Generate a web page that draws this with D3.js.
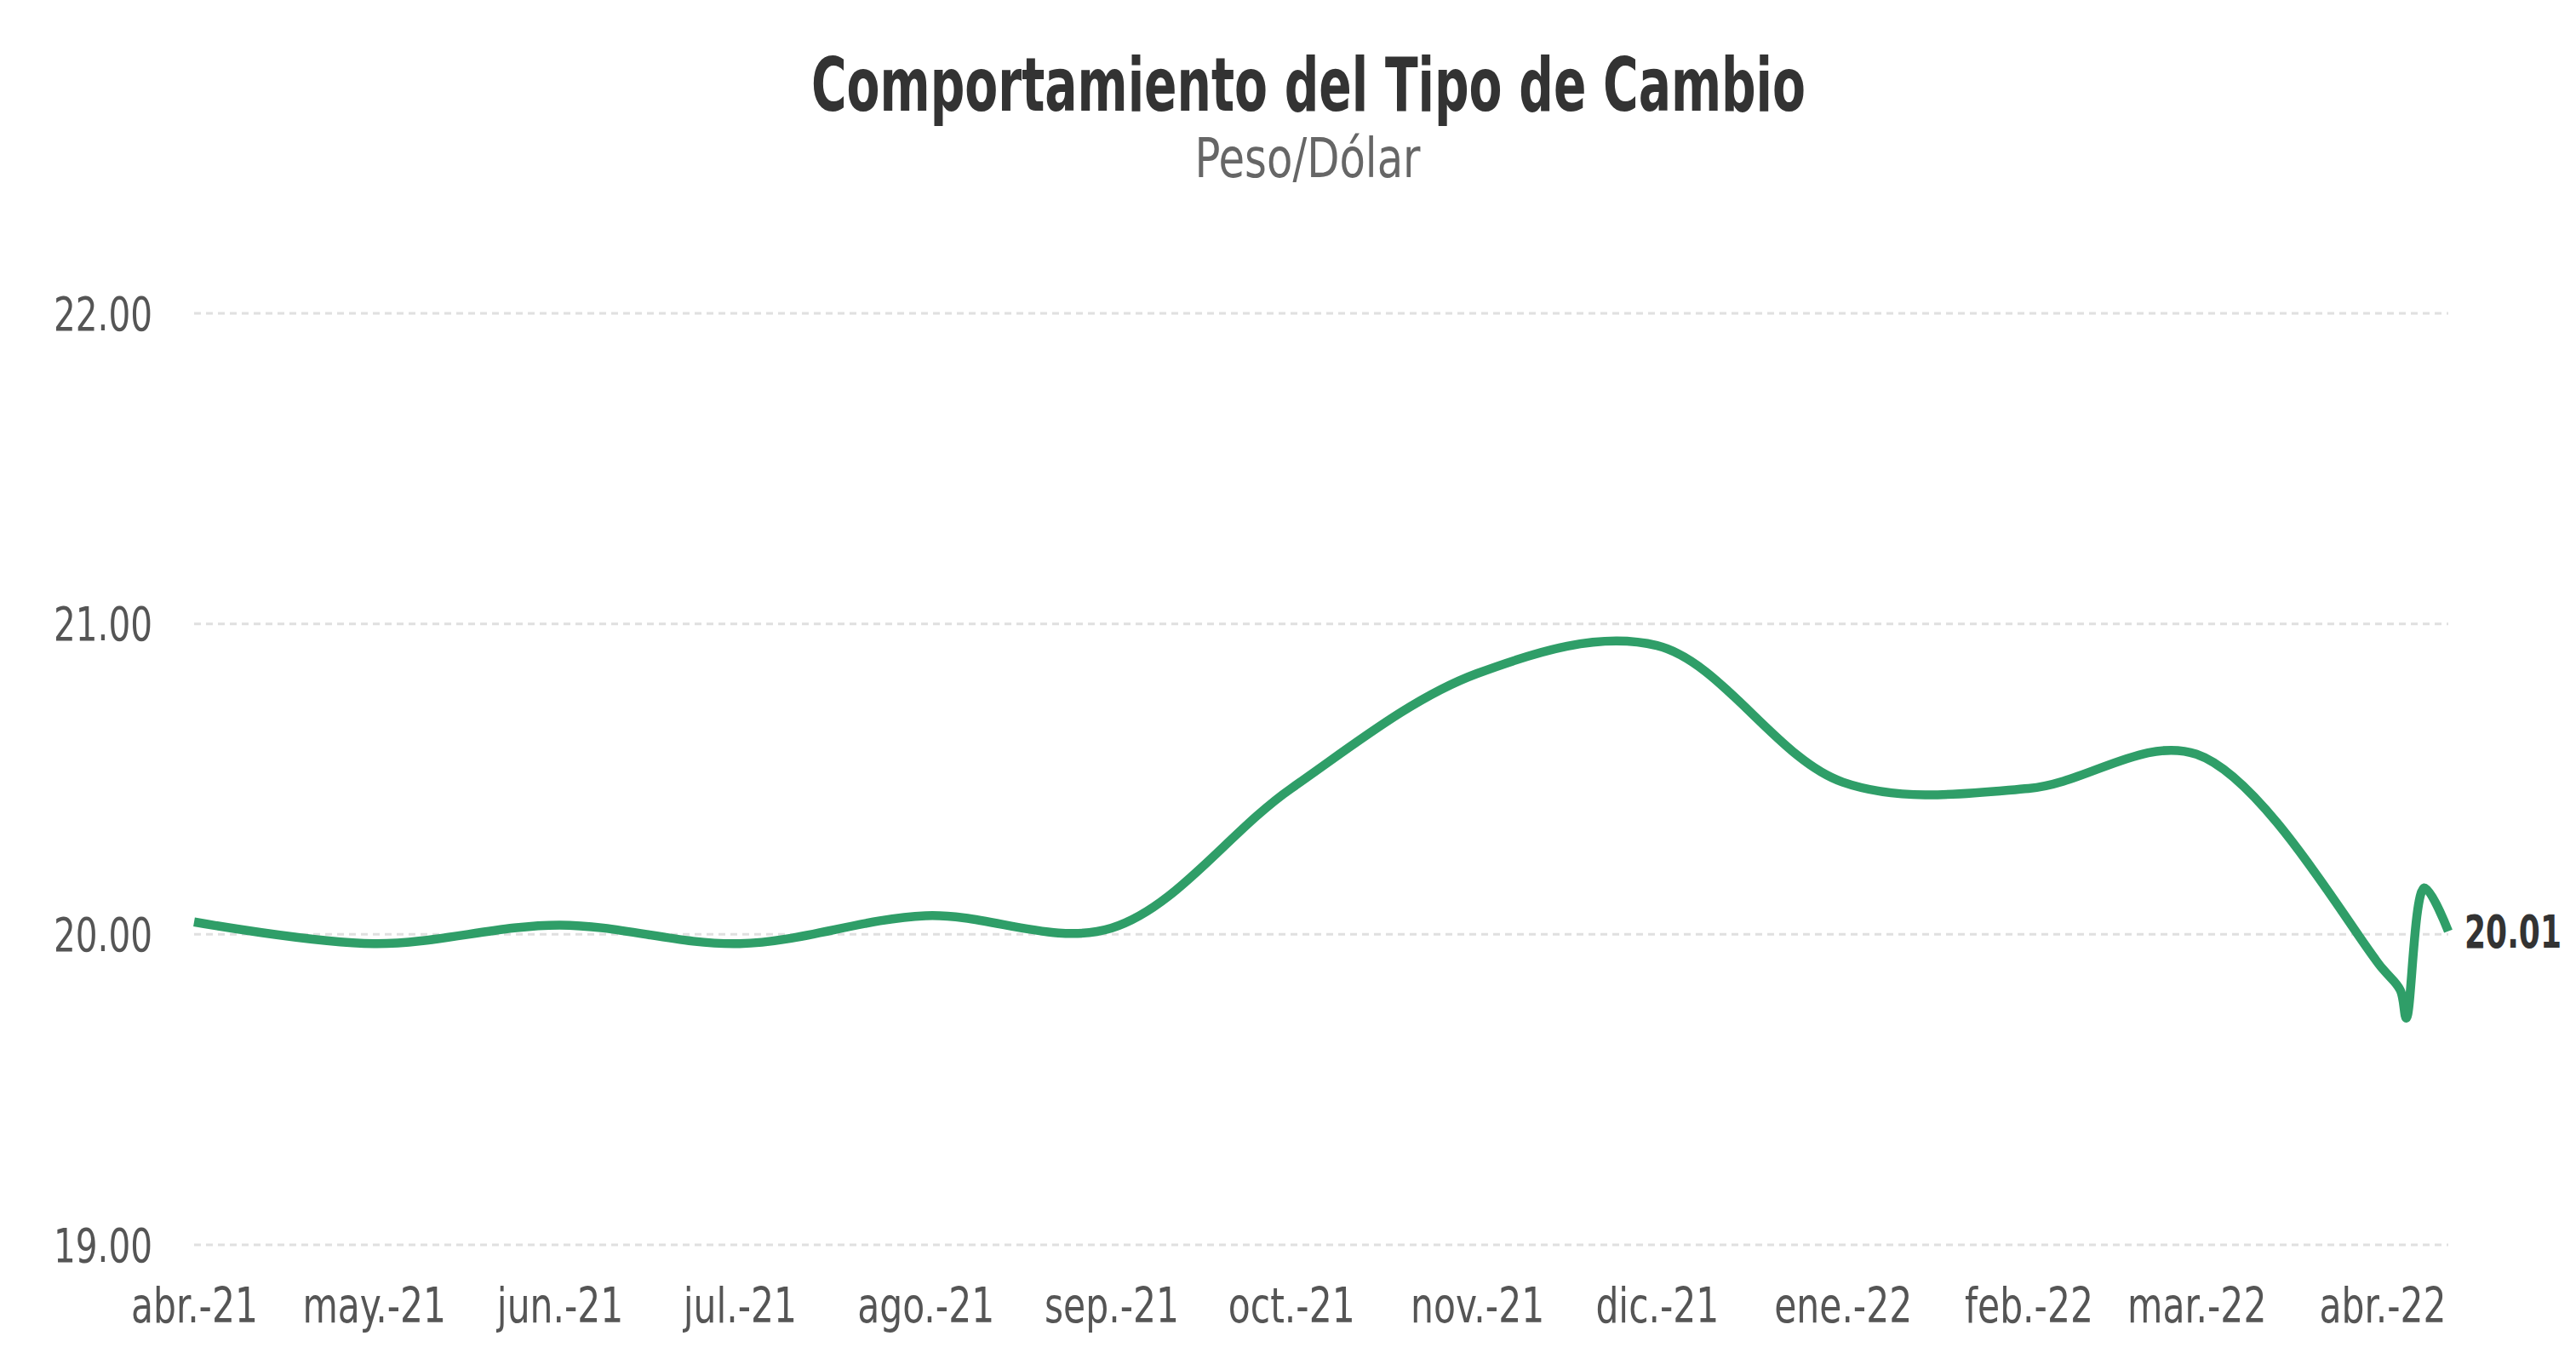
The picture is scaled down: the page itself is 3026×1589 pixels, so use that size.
<!DOCTYPE html>
<html>
<head>
<meta charset="utf-8">
<script src="https://cdn.jsdelivr.net/npm/d3@7"></script>
<style>
  html, body { margin: 0; padding: 0; background: #fff; }
  svg text { font-family: "Liberation Sans Narrow", "Arial Narrow", "DejaVu Sans Condensed", sans-serif; }
</style>
</head>
<body>
<svg id="chart" width="3026" height="1589"></svg>
<script>
// ---- Data ----
const dates = [
  "2021-04-01","2021-05-01","2021-06-01","2021-07-01","2021-08-01","2021-09-01",
  "2021-10-01","2021-11-01","2021-12-01","2022-01-01","2022-02-01","2022-03-01",
  "2022-04-01","2022-04-04","2022-04-05","2022-04-08","2022-04-12"
];
const values = [
  20.04, 19.97, 20.03, 19.97, 20.06, 20.02,
  20.47, 20.84, 20.93, 20.49, 20.47, 20.58,
  19.89, 19.82, 19.73, 20.15, 20.01
];
const tickDates = [
  "2021-04-01","2021-05-01","2021-06-01","2021-07-01","2021-08-01","2021-09-01",
  "2021-10-01","2021-11-01","2021-12-01","2022-01-01","2022-02-01","2022-03-01","2022-04-01"
];
const tickLabels = [
  "abr.-21","may.-21","jun.-21","jul.-21","ago.-21","sep.-21",
  "oct.-21","nov.-21","dic.-21","ene.-22","feb.-22","mar.-22","abr.-22"
];
const yTicks = [19, 20, 21, 22];
const title = "Comportamiento del Tipo de Cambio";
const subtitle = "Peso/Dólar";
const lastLabel = "20.01";

// ---- Layout ----
const parse = d3.timeParse("%Y-%m-%d");
const data = dates.map((d, i) => ({ date: parse(d), value: values[i] }));
const svg = d3.select("#chart");

// condense text to match the reference's narrow typeface
function condense(sel, factor) {
  sel.each(function () {
    const w = this.getComputedTextLength();
    d3.select(this).attr("textLength", w * factor).attr("lengthAdjust", "spacingAndGlyphs");
  });
}
function factorFor(str, size, weight, target) {
  const t = svg.append("text").attr("font-size", size).attr("font-weight", weight).text(str);
  const w = t.node().getComputedTextLength();
  t.remove();
  return target / w;
}

const x = d3.scaleTime()
  .domain([data[0].date, data[data.length - 1].date])
  .range([228, 2876]);
const y = d3.scaleLinear().domain([19, 22]).range([1462, 368]);

// gridlines
svg.append("g").selectAll("line").data(yTicks).join("line")
  .attr("x1", x.range()[0]).attr("x2", x.range()[1])
  .attr("y1", d => y(d)).attr("y2", d => y(d))
  .attr("stroke", "#e0e0e0").attr("stroke-width", 3)
  .attr("stroke-dasharray", "8,6");

// y axis labels
const yAxis = d3.axisLeft(y).tickValues(yTicks).tickFormat(d3.format(".2f")).tickSize(0).tickPadding(0);
const gy = svg.append("g").attr("transform", "translate(179,0)").call(yAxis);
gy.select(".domain").remove();
gy.selectAll("text").attr("font-size", 55).attr("fill", "#555")
  .attr("font-family", null).attr("dy", "0.35em");
condense(gy.selectAll("text"), factorFor("22.00", 55, "normal", 116));

// x axis labels
const tickDateObjs = tickDates.map(parse);
const xAxis = d3.axisBottom(x).tickValues(tickDateObjs)
  .tickFormat((d, i) => tickLabels[i]).tickSize(0).tickPadding(0);
const gx = svg.append("g").attr("transform", "translate(0,1512)").call(xAxis);
gx.select(".domain").remove();
gx.selectAll("text").attr("font-size", 57).attr("fill", "#555").attr("dy", "0.72em")
  .attr("font-family", null);
condense(gx.selectAll("text"), factorFor("abr.-21", 57, "normal", 149));

// line
const line = d3.line()
  .x(d => x(d.date)).y(d => y(d.value))
  .curve(d3.curveCatmullRom.alpha(0.5));
svg.append("path").datum(data)
  .attr("d", line)
  .attr("fill", "none")
  .attr("stroke", "#2f9e68")
  .attr("stroke-width", 10.5)
  .attr("stroke-linejoin", "round")
  .attr("stroke-linecap", "butt");

// last value label (horizontally scaled to the narrow face)
const last = data[data.length - 1];
const sx = factorFor("20.01", 53, "bold", 114);
svg.append("g")
  .attr("transform", `translate(${x(last.date) + 19},${y(last.value)}) scale(${sx},1)`)
  .append("text")
  .attr("x", 0).attr("y", 0).attr("dy", "0.36em")
  .attr("font-size", 53).attr("font-weight", "bold").attr("fill", "#333")
  .text(lastLabel);

// title
svg.append("text").attr("x", 1537).attr("y", 130).attr("text-anchor", "middle")
  .attr("font-size", 87).attr("font-weight", "bold").attr("fill", "#333")
  .attr("textLength", 1168).attr("lengthAdjust", "spacingAndGlyphs")
  .text(title);
const sub = svg.append("text").attr("x", 1536).attr("y", 208).attr("text-anchor", "middle")
  .attr("font-size", 64).attr("fill", "#666")
  .text(subtitle);
condense(sub, factorFor(subtitle, 64, "normal", 265));
</script>
</body>
</html>
